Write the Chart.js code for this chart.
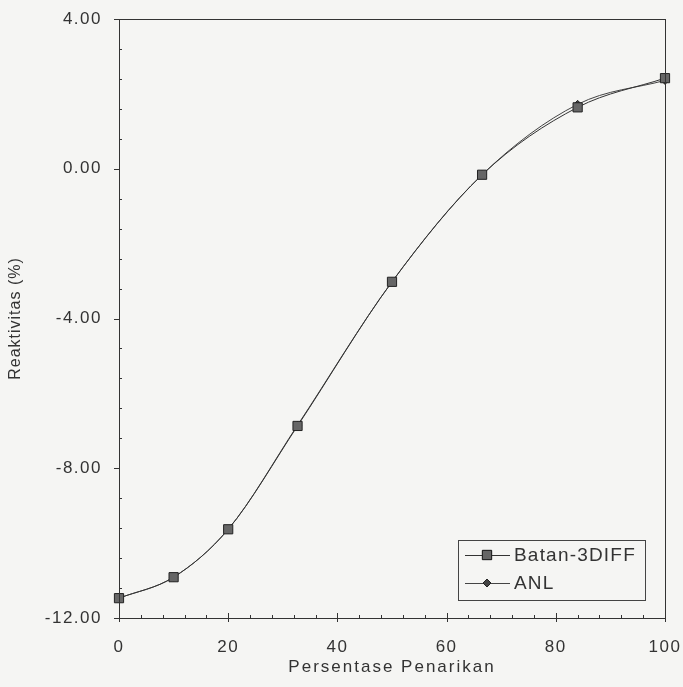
<!DOCTYPE html>
<html lang="id">
<head>
<meta charset="UTF-8">
<title>Reaktivitas vs Persentase Penarikan</title>
<script src="https://cdn.jsdelivr.net/npm/chart.js"></script>
<style>
  body { margin: 0; background: #f5f5f3; }
  canvas { display: block; }
</style>
</head>
<body>
<canvas id="chart" width="683" height="687"></canvas>
<script>
// data
const penarikan = [0, 10, 20, 32.7, 50, 66.5, 84, 100];
const batan3diff = [-11.47, -10.91, -9.63, -6.87, -3.02, -0.16, 1.64, 2.42];
const anl = [-11.47, -10.91, -9.63, -6.85, -3.02, -0.16, 1.72, 2.36];

const xTicks = [0, 20, 40, 60, 80, 100];
const yTicks = [-12, -8, -4, 0, 4];
const xMinorStep = 4;
const yMinorStep = 0.8;

const FONT = "'Liberation Sans', Arial, sans-serif";
const INK = '#333';

const toPoints = ys => ys.map((v, i) => ({ x: penarikan[i], y: v }));

// background, frame and the small inward ticks
const frameTicks = {
  id: 'frameTicks',
  beforeDraw(chart) {
    const ctx = chart.ctx;
    ctx.save();
    ctx.fillStyle = '#f5f5f3';
    ctx.fillRect(0, 0, chart.width, chart.height);
    ctx.restore();
    ctx.letterSpacing = '1.5px';
  },
  afterDraw(chart) {
    const { ctx, chartArea: a, scales: { x, y } } = chart;
    ctx.save();
    ctx.letterSpacing = '0px';
    ctx.strokeStyle = INK;
    ctx.lineWidth = 1;
    ctx.strokeRect(a.left + 0.5, a.top + 0.5, a.right - a.left, a.bottom - a.top);
    ctx.beginPath();
    for (let v = 0; v <= 100; v += xMinorStep) {
      const px = Math.round(x.getPixelForValue(v)) + 0.5;
      const major = xTicks.includes(v);
      ctx.moveTo(px, a.bottom + (major ? 4 : 0));
      ctx.lineTo(px, a.bottom - (major ? 5 : 3));
    }
    for (let k = 0; k <= 20; k++) {
      const v = -12 + k * yMinorStep;
      const py = Math.round(y.getPixelForValue(v)) + 0.5;
      const major = yTicks.some(t => Math.abs(t - v) < 1e-6);
      ctx.moveTo(a.left - (major ? 5 : 0), py);
      ctx.lineTo(a.left + (major ? 0 : 3), py);
    }
    ctx.stroke();

    // axis titles
    ctx.fillStyle = INK;
    ctx.textAlign = 'center';
    ctx.textBaseline = 'middle';
    ctx.font = '17px ' + FONT;
    ctx.letterSpacing = '2px';
    ctx.fillText('Persentase Penarikan', (a.left + a.right) / 2, 667);
    ctx.save();
    ctx.translate(16, (a.top + a.bottom) / 2);
    ctx.rotate(-Math.PI / 2);
    ctx.font = '16px ' + FONT;
    ctx.letterSpacing = '1px';
    ctx.fillText('Reaktivitas (%)', 0, 0);
    ctx.restore();

    // legend box
    const bx = a.right - 207, by = a.bottom - 78, bw = 187, bh = 60;
    ctx.strokeStyle = '#444';
    ctx.strokeRect(bx + 0.5, by + 0.5, bw, bh);
    ctx.textAlign = 'left';
    ctx.font = '19px ' + FONT;
    ctx.letterSpacing = '1.2px';
    chart.data.datasets.forEach((ds, i) => {
      const ry = by + 15 + i * 28;
      ctx.strokeStyle = ds.borderColor;
      ctx.beginPath();
      ctx.moveTo(bx + 7, ry + 0.5);
      ctx.lineTo(bx + 52, ry + 0.5);
      ctx.stroke();
      Chart.helpers.drawPoint(ctx, {
        pointStyle: ds.pointStyle,
        radius: ds.pointRadius,
        borderWidth: 1
      }, bx + 29, ry);
      ctx.fillStyle = ds.pointBackgroundColor;
      ctx.strokeStyle = ds.pointBorderColor;
      ctx.fill();
      ctx.stroke();
      ctx.fillStyle = INK;
      ctx.fillText(ds.label, bx + 56, ry + 1);
    });
    ctx.restore();
  }
};

new Chart(document.getElementById('chart'), {
  type: 'line',
  data: {
    datasets: [
      {
        label: 'Batan-3DIFF',
        data: toPoints(batan3diff),
        borderColor: '#333',
        borderWidth: 1,
        pointStyle: 'rect',
        pointRadius: 6.5,
        pointBackgroundColor: '#666',
        pointBorderColor: '#222',
        pointBorderWidth: 1,
        cubicInterpolationMode: 'monotone'
      },
      {
        label: 'ANL',
        data: toPoints(anl),
        borderColor: '#444',
        borderWidth: 1,
        pointStyle: 'rectRot',
        pointRadius: 4,
        pointBackgroundColor: '#444',
        pointBorderColor: '#222',
        pointBorderWidth: 1,
        cubicInterpolationMode: 'monotone'
      }
    ]
  },
  options: {
    responsive: false,
    devicePixelRatio: 1,
    animation: false,
    clip: false,
    layout: { padding: { left: 0, top: 19, right: 18, bottom: 0 } },
    plugins: { legend: { display: false }, tooltip: { enabled: false } },
    scales: {
      x: {
        type: 'linear',
        min: 0,
        max: 100,
        afterBuildTicks: s => { s.ticks = xTicks.map(v => ({ value: v })); },
        afterFit: s => { s.height = 69; s.paddingLeft = 0; s.paddingRight = 0; },
        grid: { display: false, drawTicks: false },
        border: { display: true, color: INK },
        ticks: { padding: 19, color: INK, font: { family: FONT, size: 17 } }
      },
      y: {
        min: -12,
        max: 4,
        afterBuildTicks: s => { s.ticks = yTicks.map(v => ({ value: v })); },
        afterFit: s => { s.width = 119; s.paddingTop = 0; s.paddingBottom = 0; },
        grid: { display: false, drawTicks: false },
        border: { display: true, color: INK },
        ticks: {
          padding: 17,
          color: INK,
          font: { family: FONT, size: 17 },
          callback: v => v.toFixed(2)
        }
      }
    }
  },
  plugins: [frameTicks]
});
</script>
</body>
</html>
